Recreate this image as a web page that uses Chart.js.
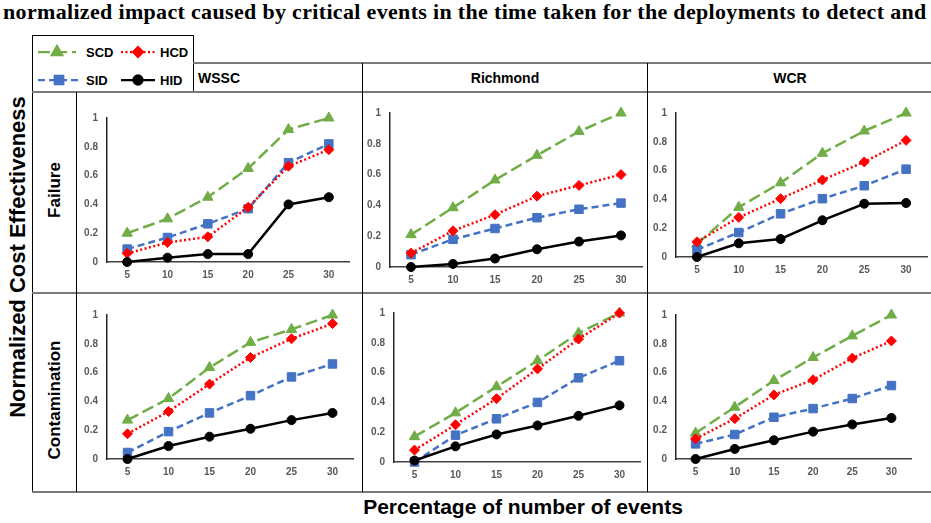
<!DOCTYPE html>
<html>
<head>
<meta charset="utf-8">
<script src="https://cdn.jsdelivr.net/npm/chart.js@4.4.1/dist/chart.umd.min.js"></script>
<style>
    html, body { margin: 0; padding: 0; background: #fff; }
    body { width: 931px; height: 523px; position: relative; overflow: hidden; font-family: "Liberation Sans", Arial, sans-serif; color: #000; }
    .title { position: absolute; left: 3px; top: -1px; white-space: nowrap; font-family: "Liberation Serif", serif; font-weight: bold; font-size: 22px; letter-spacing: 0.33px; line-height: 26px; }
    .hline { position: absolute; height: 2px; background: #7a7a7a; }
    .vline { position: absolute; width: 1px; background: #000; }
    .rot { position: absolute; white-space: nowrap; font-weight: bold; transform: translate(-50%, -50%) rotate(-90deg); }
    .head { position: absolute; font-weight: bold; font-size: 14px; transform: translateY(-50%); white-space: nowrap; }
    .leg { position: absolute; font-weight: bold; font-size: 13px; transform: translateY(-50%); }
    .panel { position: absolute; }
</style>
</head>
<body>
<div class="title">normalized impact caused by critical events in the time taken for the deployments to detect and localize</div>

<!-- table frame -->
<div class="hline" style="left:32px; top:35px; width:162px; height:1px; background:#000"></div>
<div class="vline" style="left:32px; top:35px; height:458px"></div>
<div class="vline" style="left:193px; top:35px; height:57px"></div>
<div class="hline" style="left:193px; top:62px; width:740px"></div>
<div class="hline" style="left:32px; top:91px; width:900px"></div>
<div class="hline" style="left:32px; top:292px; width:900px"></div>
<div class="hline" style="left:32px; top:491px; width:900px"></div>
<div class="vline" style="left:76px; top:92px; height:400px"></div>
<div class="vline" style="left:362px; top:63px; height:429px"></div>
<div class="vline" style="left:647px; top:63px; height:429px"></div>

<div class="head" style="left:198px; top:78px">WSSC</div>
<div class="head" style="left:505px; top:78px; transform:translate(-50%,-50%)">Richmond</div>
<div class="head" style="left:790px; top:78px; transform:translate(-50%,-50%)">WCR</div>

<div class="rot" style="left:18px; top:257px; font-size:22px">Normalized Cost Effectiveness</div>
<div class="rot" style="left:55px; top:190px; font-size:17px">Failure</div>
<div class="rot" style="left:55px; top:400px; font-size:17px">Contamination</div>
<div style="position:absolute; left:523px; top:507px; transform:translate(-50%,-50%); font-weight:bold; font-size:21px; white-space:nowrap">Percentage of number of events</div>

<!-- legend -->
<canvas id="legSCD" class="panel" width="40" height="16" style="left:37px; top:44px"></canvas>
<div class="leg" style="left:86px; top:52px">SCD</div>
<canvas id="legHCD" class="panel" width="36" height="16" style="left:120px; top:44px"></canvas>
<div class="leg" style="left:160px; top:52px">HCD</div>
<canvas id="legSID" class="panel" width="44" height="16" style="left:37px; top:72px"></canvas>
<div class="leg" style="left:86px; top:80px">SID</div>
<canvas id="legHID" class="panel" width="36" height="16" style="left:120px; top:72px"></canvas>
<div class="leg" style="left:160px; top:80px">HID</div>

<div id="panels"></div>

<script>
const categories = ["5", "10", "15", "20", "25", "30"];
const yTickValues = [0, 0.2, 0.4, 0.6, 0.8, 1];
const yTickLabels = ["0", "0.2", "0.4", "0.6", "0.8", "1"];
const seriesNames = ["SCD", "SID", "HCD", "HID"];

// Failure
const failWsscSCD = [0.20, 0.30, 0.45, 0.65, 0.92, 1.00];
const failWsscSID = [0.09, 0.17, 0.265, 0.37, 0.69, 0.82];
const failWsscHCD = [0.06, 0.135, 0.175, 0.38, 0.665, 0.78];
const failWsscHID = [0.00, 0.03, 0.055, 0.055, 0.40, 0.45];

const failRichSCD = [0.21, 0.385, 0.565, 0.725, 0.88, 1.00];
const failRichSID = [0.08, 0.18, 0.25, 0.32, 0.375, 0.415];
const failRichHCD = [0.09, 0.235, 0.34, 0.46, 0.53, 0.60];
const failRichHID = [0.00, 0.02, 0.055, 0.115, 0.165, 0.205];

const failWcrSCD = [0.09, 0.345, 0.515, 0.72, 0.875, 1.00];
const failWcrSID = [0.05, 0.17, 0.30, 0.405, 0.495, 0.61];
const failWcrHCD = [0.105, 0.275, 0.405, 0.535, 0.66, 0.81];
const failWcrHID = [0.00, 0.095, 0.125, 0.255, 0.37, 0.375];

// Contamination
const contWsscSCD = [0.27, 0.42, 0.635, 0.81, 0.90, 1.00];
const contWsscSID = [0.045, 0.19, 0.32, 0.44, 0.57, 0.66];
const contWsscHCD = [0.175, 0.33, 0.52, 0.705, 0.835, 0.94];
const contWsscHID = [0.00, 0.09, 0.155, 0.21, 0.27, 0.32];

const contRichSCD = [0.17, 0.33, 0.505, 0.68, 0.865, 1.00];
const contRichSID = [0.00, 0.18, 0.29, 0.40, 0.565, 0.68];
const contRichHCD = [0.08, 0.25, 0.425, 0.625, 0.825, 1.00];
const contRichHID = [0.01, 0.105, 0.185, 0.245, 0.31, 0.38];

const contWcrSCD = [0.18, 0.36, 0.545, 0.705, 0.855, 1.00];
const contWcrSID = [0.105, 0.17, 0.29, 0.35, 0.42, 0.51];
const contWcrHCD = [0.14, 0.28, 0.445, 0.55, 0.70, 0.82];
const contWcrHID = [0.00, 0.07, 0.13, 0.19, 0.24, 0.285];

const styles = {
    SCD: { color: "#70AD47", dash: [12, 5], point: "triangle", r: 6, order: 4 },
    SID: { color: "#4472C4", dash: [7, 4], point: "rect", r: 6, order: 3 },
    HCD: { color: "#FF0000", dash: [2, 2.5], point: "rectRot", r: 5, order: 2 },
    HID: { color: "#000000", dash: [], point: "circle", r: 4.5, order: 1 }
};

// chart area of each panel: left, top (value 1), right, bottom (value 0)
const panels = [
    { area: [107, 118, 352, 262], data: [failWsscSCD, failWsscSID, failWsscHCD, failWsscHID] },
    { area: [390, 113, 645, 267], data: [failRichSCD, failRichSID, failRichHCD, failRichHID] },
    { area: [676, 113, 930, 257], data: [failWcrSCD, failWcrSID, failWcrHCD, failWcrHID] },
    { area: [107, 315, 356, 459], data: [contWsscSCD, contWsscSID, contWsscHCD, contWsscHID] },
    { area: [394, 313, 643, 462], data: [contRichSCD, contRichSID, contRichHCD, contRichHID] },
    { area: [676, 315, 914, 459], data: [contWcrSCD, contWcrSID, contWcrHCD, contWcrHID] }
];

// y labels add half their height plus tick padding (6 + 9) above the plot area
const YW = 30, XH = 22, PT = 16, PR = 4;
const tickFont = { family: "'Liberation Sans', Arial, sans-serif", size: 10, weight: "bold" };

function drawSymbol(id, s) {
    const c = document.getElementById(id);
    const ctx = c.getContext("2d");
    const cy = c.height / 2;
    ctx.strokeStyle = s.color;
    ctx.lineWidth = 2.25;
    ctx.setLineDash(s.dash);
    ctx.beginPath();
    ctx.moveTo(1, cy);
    ctx.lineTo(c.width - 1, cy);
    ctx.stroke();
    ctx.setLineDash([]);
    Chart.helpers.drawPoint(ctx, { pointStyle: s.point, radius: s.r, borderWidth: 1 }, c.width / 2, cy);
    ctx.fillStyle = s.color;
    ctx.fill();
}

document.addEventListener("DOMContentLoaded", () => {
    seriesNames.forEach(n => drawSymbol("leg" + n, styles[n]));

    const holder = document.getElementById("panels");
    panels.forEach(p => {
        const [l, t, r, b] = p.area;
        const box = document.createElement("div");
        box.className = "panel";
        box.style.left = (l - YW) + "px";
        box.style.top = (t - PT) + "px";
        box.style.width = (r - l + YW + PR) + "px";
        box.style.height = (b - t + PT + XH) + "px";
        const canvas = document.createElement("canvas");
        box.appendChild(canvas);
        holder.appendChild(box);

        new Chart(canvas.getContext("2d"), {
            type: "line",
            data: {
                labels: categories,
                datasets: seriesNames.map((n, i) => ({
                    label: n,
                    data: p.data[i],
                    borderColor: styles[n].color,
                    backgroundColor: styles[n].color,
                    borderWidth: 2.5,
                    borderDash: styles[n].dash,
                    pointStyle: styles[n].point,
                    pointRadius: styles[n].r,
                    pointBorderWidth: 1,
                    order: styles[n].order,
                    clip: false,
                    tension: 0
                }))
            },
            options: {
                responsive: true,
                maintainAspectRatio: false,
                animation: false,
                layout: { padding: { top: PT, right: PR, left: 0, bottom: 0 } },
                plugins: {
                    legend: { display: false },
                    tooltip: { enabled: false }
                },
                scales: {
                    x: {
                        offset: true,
                        grid: { display: false, drawTicks: false },
                        border: { display: true, color: "#404040", width: 1.5 },
                        ticks: { color: "#595959", font: tickFont, padding: 7, maxRotation: 0 },
                        afterFit: s => { s.height = XH; }
                    },
                    y: {
                        min: 0,
                        max: 1,
                        grid: { display: false, drawTicks: false },
                        border: { display: true, color: "#262626", width: 1.5 },
                        ticks: {
                            color: "#595959",
                            font: tickFont,
                            padding: 9,
                            callback: (v, i) => yTickLabels[i]
                        },
                        afterBuildTicks: s => { s.ticks = yTickValues.map(v => ({ value: v })); },
                        afterFit: s => { s.width = YW; }
                    }
                }
            }
        });
    });
});
</script>
</body>
</html>
